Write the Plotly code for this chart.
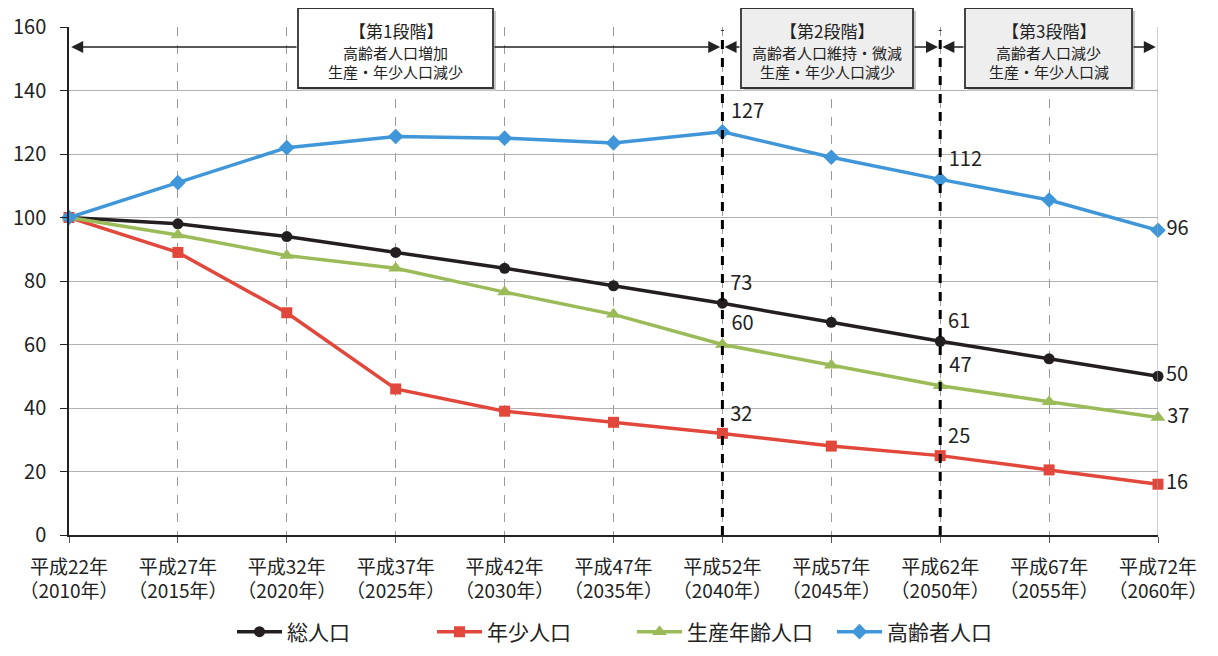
import plotly.graph_objects as go

# categories (x axis), two lines each
years = ['平成22年<br>（2010年）', '平成27年<br>（2015年）', '平成32年<br>（2020年）',
         '平成37年<br>（2025年）', '平成42年<br>（2030年）', '平成47年<br>（2035年）',
         '平成52年<br>（2040年）', '平成57年<br>（2045年）', '平成62年<br>（2050年）',
         '平成67年<br>（2055年）', '平成72年<br>（2060年）']

# index values (2010 = 100)
total = [100, 98, 94, 89, 84, 78.5, 73, 67, 61, 55.5, 50]
youth = [100, 89, 70, 46, 39, 35.5, 32, 28, 25, 20.5, 16]
working = [100, 94.5, 88, 84, 76.5, 69.5, 60, 53.5, 47, 42, 37]
elderly = [100, 111, 122, 125.5, 125, 123.5, 127, 119, 112, 105.5, 96]

# which points get a value label
labelled = [6, 8, 10]

# phase boxes: header, line 2, line 3
phase_head = ['【第1段階】', '【第2段階】', '【第3段階】']
phase_l2 = ['高齢者人口増加', '高齢者人口維持・微減', '高齢者人口減少']
phase_l3 = ['生産・年少人口減少', '生産・年少人口減少', '生産・年少人口減']

FONT = 'Noto Sans CJK JP'

# the page body adds an 8px offset, so margins are pulled in by that much
OFF = 8
W, H = 1218, 656
# plot area as seen on screen (left, right, top, bottom)
PL, PR, PT, PB = 69, 1158, 27, 535


def px(x):
    return (x - PL) / (PR - PL)


def py(y):
    return (PB - y) / (PB - PT)


def xi(x):
    # screen pixel -> category index
    return (x - PL) / (PR - PL) * 10


def labels(vals):
    return ['%d' % round(v) if i in labelled else '' for i, v in enumerate(vals)]


def positions():
    return ['middle right' if i == 10 else 'top right' for i in range(len(years))]


fig = go.Figure()
x_idx = list(range(len(years)))

series = [
    ('総人口', total, '#231f20', 'circle', 11),
    ('年少人口', youth, '#e2473b', 'square', 11),
    ('生産年齢人口', working, '#9bbb59', 'triangle-up', 13),
    ('高齢者人口', elderly, '#3f96d8', 'diamond', 12),
]
for name, vals, color, symbol, size in series:
    fig.add_trace(go.Scatter(
        x=x_idx, y=vals, name=name,
        mode='lines+markers+text',
        line=dict(color=color, width=3.5),
        marker=dict(color=color, symbol=symbol, size=size),
        text=labels(vals), textposition=positions(),
        textfont=dict(size=20, color='#222', family=FONT),
        cliponaxis=False,
    ))

# phase boundaries
for b in [6, 8]:
    fig.add_shape(type='line', x0=b, x1=b, y0=0, y1=159, xref='x', yref='y',
                  line=dict(color='black', width=3, dash='dash'))
fig.add_shape(type='line', x0=10, x1=10, y0=0, y1=160, xref='x', yref='y',
              line=dict(color='#a0a0a0', width=1))

# phase boxes (pixel extents on screen) and the arrows either side of them
box_px = [(298, 493, '#ffffff'), (741, 913, '#eeeeee'), (965, 1132, '#eeeeee')]
spans = [(0, 6), (6, 8), (8, 10)]
for (x0, x1, bg), (a, b) in zip(box_px, spans):
    for head, tail in [(a + 0.02, xi(x0)), (b - 0.02, xi(x1))]:
        fig.add_annotation(x=head, y=153.7, ax=tail, ay=153.7, axref='x', ayref='y',
                           xref='x', yref='y', text='', showarrow=True,
                           arrowhead=2, arrowsize=1.6, arrowwidth=1.5,
                           arrowcolor='#222', standoff=0)

for (x0, x1, bg), h, l2, l3 in zip(box_px, phase_head, phase_l2, phase_l3):
    fig.add_shape(type='rect', xref='paper', yref='paper',
                  x0=px(x0 + 3), x1=px(x1 + 3), y0=py(91), y1=py(11),
                  fillcolor='#c8c8c8', line=dict(width=0), layer='above')
    fig.add_shape(type='rect', xref='paper', yref='paper',
                  x0=px(x0), x1=px(x1), y0=py(88), y1=py(8),
                  fillcolor=bg, line=dict(color='#333', width=1.8), layer='above')
    cx = px((x0 + x1) / 2)
    for txt, yy, sz in [(h, 31, 17), (l2, 52, 15), (l3, 72, 15)]:
        fig.add_annotation(x=cx, y=py(yy), xref='paper', yref='paper', text=txt,
                           showarrow=False, xanchor='center', yanchor='middle',
                           font=dict(size=sz, color='#222', family=FONT))

fig.update_layout(
    width=W, height=H,
    margin=dict(l=PL - OFF, r=W - PR + OFF, t=PT - OFF, b=H - PB + OFF),
    plot_bgcolor='white', paper_bgcolor='white',
    font=dict(family=FONT, color='#222'),
    showlegend=True,
    legend=dict(orientation='h', x=px(232), xanchor='left', y=py(632), yanchor='middle',
                font=dict(size=21, family=FONT), itemwidth=45,
                entrywidth=140, entrywidthmode='pixels', traceorder='normal'),
    xaxis=dict(
        tickmode='array', tickvals=x_idx, ticktext=years, automargin=False,
        range=[0, 10], showgrid=True, gridcolor='#9a9a9a', griddash='dash', gridwidth=1,
        showline=True, linecolor='#222', linewidth=1.5, ticks='outside', ticklen=6,
        tickcolor='#555', tickfont=dict(size=19, family=FONT), zeroline=False,
        tickangle=0, ticklabelstandoff=8,
    ),
    yaxis=dict(
        range=[0, 160], dtick=20, showgrid=True, gridcolor='#b0b0b0', gridwidth=1,
        automargin=False,
        showline=True, linecolor='#222', linewidth=1.5, ticks='outside', ticklen=7,
        tickcolor='#222', tickfont=dict(size=20, family=FONT), zeroline=False,
        ticklabelstandoff=10,
    ),
)

fig.write_html("out.html")
